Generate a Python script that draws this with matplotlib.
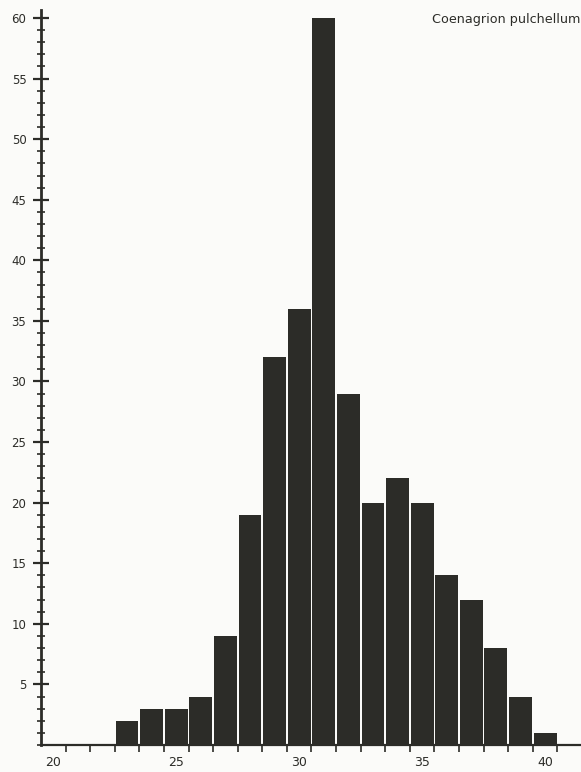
import matplotlib
matplotlib.use("Agg")
import matplotlib.pyplot as plt
import numpy as np
from matplotlib.ticker import MultipleLocator, FixedLocator

# Data
bin_centers = [23, 24, 25, 26, 27, 28, 29, 30, 31, 32, 33, 34, 35, 36, 37, 38, 39, 40]
counts = [2, 3, 3, 4, 9, 19, 32, 36, 60, 29, 20, 22, 20, 14, 12, 8, 4, 1]
x_ticks = [20, 25, 30, 35, 40]
y_ticks = [5, 10, 15, 20, 25, 30, 35, 40, 45, 50, 55, 60]
title = "Coenagrion pulchellum"

bg = "#fbfbf9"
dark = "#2c2c28"

fig = plt.figure(figsize=(5.81, 7.72), dpi=100, facecolor=bg)
ax = fig.add_axes([41/581, 27/772, 1 - 41/581, 735/772], facecolor=bg)

ax.bar(bin_centers, counts, width=0.93, color=dark, edgecolor="none")

ax.set_xlim(19.5, 41.46)
ax.set_ylim(0, 60.66)

for s in ["top", "right"]:
    ax.spines[s].set_visible(False)
ax.spines["left"].set_linewidth(2.0)
ax.spines["left"].set_color(dark)
ax.spines["bottom"].set_linewidth(1.6)
ax.spines["bottom"].set_color(dark)

ax.yaxis.set_major_locator(FixedLocator(y_ticks))
ax.yaxis.set_minor_locator(MultipleLocator(1))
ax.tick_params(axis="y", which="major", direction="inout", length=11, width=1.6,
               color=dark, labelsize=8.5, pad=5, labelcolor=dark)
ax.tick_params(axis="y", which="minor", direction="inout", length=6, width=1.2, color=dark)

ax.xaxis.set_major_locator(FixedLocator(x_ticks))
edges = [c + 0.5 for c in range(20, 41)]
ax.xaxis.set_minor_locator(FixedLocator(edges))
ax.tick_params(axis="x", which="major", length=0, labelsize=9, pad=8, labelcolor=dark)
ax.tick_params(axis="x", which="minor", direction="out", length=5, width=1.2, color=dark)

fig.text(432/581, 1 - 19/772, title, ha="left", va="center", fontsize=9.2, color=dark)

fig.savefig("out.png", dpi=100, facecolor=bg)
